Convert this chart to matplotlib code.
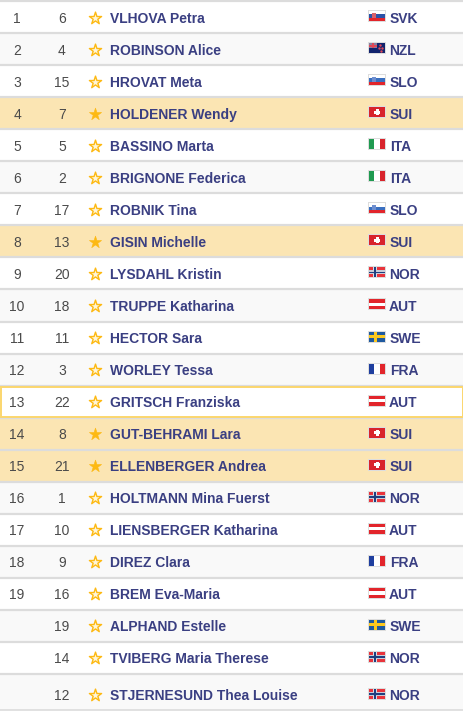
import matplotlib
matplotlib.use("Agg")
from matplotlib import pyplot as plt
from matplotlib.patches import Rectangle

ranks = ["1", "2", "3", "4", "5", "6", "7", "8", "9", "10", "11", "12", "13", "14", "15", "16", "17", "18", "19", "", "", ""]
bibs = [6, 4, 15, 7, 5, 2, 17, 13, 20, 18, 11, 3, 22, 8, 21, 1, 10, 9, 16, 19, 14, 12]
names = ["VLHOVA Petra", "ROBINSON Alice", "HROVAT Meta", "HOLDENER Wendy", "BASSINO Marta",
         "BRIGNONE Federica", "ROBNIK Tina", "GISIN Michelle", "LYSDAHL Kristin", "TRUPPE Katharina",
         "HECTOR Sara", "WORLEY Tessa", "GRITSCH Franziska", "GUT-BEHRAMI Lara", "ELLENBERGER Andrea",
         "HOLTMANN Mina Fuerst", "LIENSBERGER Katharina", "DIREZ Clara", "BREM Eva-Maria",
         "ALPHAND Estelle", "TVIBERG Maria Therese", "STJERNESUND Thea Louise"]
countries = ["SVK", "NZL", "SLO", "SUI", "ITA", "ITA", "SLO", "SUI", "NOR", "AUT", "SWE", "FRA",
             "AUT", "SUI", "SUI", "NOR", "AUT", "FRA", "AUT", "SWE", "NOR", "NOR"]
highlight = "SUI"
hover_row = 12

W, H = 463, 715
TEXT = "#3a3f82"
NUM = "#4a4a4a"
STAR = "#fdb913"
LINE = "#dcdcdc"

plt.rcParams["font.family"] = ["Liberation Sans", "DejaVu Sans"]
fig = plt.figure(figsize=(W / 100, H / 100), dpi=100)
ax = fig.add_axes([0, 0, 1, 1])
ax.set_xlim(0, W)
ax.set_ylim(H, 0)
ax.axis("off")


def box(x, y, w, h, color, z=2):
    ax.add_patch(Rectangle((x, y), w, h, facecolor=color, edgecolor="none", zorder=z))


def flag(code, x, y):
    w, h = 16, 10
    box(x - 1, y - 1, w + 2, h + 2, "#dddddd", 3)
    red, white = "#e2252b", "#ffffff"
    if code in ("SVK", "SLO", "AUT"):
        cols = {"SVK": [white, "#2a52a8", red], "SLO": [white, "#3a6fc0", red], "AUT": [red, white, red]}[code]
        for i, c in enumerate(cols):
            box(x, y + i * h / 3, w, h / 3, c, 4)
        if code != "AUT":
            box(x + 3, y + 2, 4, 5, "#d8606a" if code == "SVK" else "#6f8fd0", 5)
    elif code in ("ITA", "FRA"):
        cols = {"ITA": ["#1f9a50", white, "#d8242c"], "FRA": ["#1f3f9f", white, "#e2252b"]}[code]
        for i, c in enumerate(cols):
            box(x + i * w / 3, y, w / 3, h, c, 4)
    elif code == "SUI":
        box(x, y, w, h, "#d8242c", 4)
        box(x + 6.5, y + 2, 3, 6, white, 5)
        box(x + 5, y + 3.5, 6, 3, white, 5)
    elif code == "NOR":
        box(x, y, w, h, "#e8343c", 4)
        box(x + 4, y, 4, h, "#d9dce6", 5)
        box(x, y + 3, w, 4, "#c8ccd8", 5)
        box(x + 5.2, y, 1.6, h, "#1f3f7f", 6)
        box(x, y + 4.2, w, 1.6, "#1f3f7f", 6)
    elif code == "SWE":
        box(x, y, w, h, "#1f5a9f", 4)
        box(x + 4.5, y, 3, h, "#fcc81e", 5)
        box(x, y + 3.5, w, 3, "#fcc81e", 5)
    elif code == "NZL":
        box(x, y, w, h, "#12246e", 4)
        box(x, y, 8, 5, "#8a7f9f", 5)
        box(x + 3, y, 2, 5, "#e04858", 6)
        box(x, y + 2, 8, 1.5, "#e04858", 6)
        ax.scatter([x + 11, x + 13, x + 11.5, x + 9.5], [y + 2, y + 5, y + 8, y + 5], s=3, color="#e04858", zorder=6, linewidths=0)


# row edges, the last row is taller than the others
edges = [1 + 32.05 * i for i in range(21)] + [673.5, 710]
box(0, 0, W, H, "#ffffff", 0)

for i in range(len(names)):
    top, bot = edges[i], edges[i + 1]
    mid = (top + bot) / 2
    if i == 21:
        mid += 3
    base = round(mid + 5.5)
    code = countries[i]
    if code == highlight:
        bg = "#fbe5b3"
    elif i % 2 == 1:
        bg = "#f9f9f9"
    else:
        bg = "#ffffff"
    box(0, top, W, bot - top, bg, 1)
    ax.plot([0, W], [top, top], color=LINE, lw=1.6, zorder=2, solid_capstyle="butt")
    ax.text(17, base, ranks[i], ha="center", va="baseline", fontsize=10, color=NUM, zorder=7)
    ax.text(62, base, str(bibs[i]), ha="center", va="baseline", fontsize=10, color=NUM, zorder=7)
    filled = code == highlight
    ax.scatter([94.5], [mid + 0.5], marker="*", s=85, facecolor=STAR if filled else "#fff6d8",
               edgecolor=STAR, linewidths=1.0 if not filled else 0.4, zorder=7)
    ax.text(110, base, names[i], ha="left", va="baseline", fontsize=10, fontweight="bold", color=TEXT, zorder=7)
    flag(code, 369, mid - 6)
    ax.text(389 if code in ("NZL", "AUT", "NOR") else 390, base, code, ha="left", va="baseline", fontsize=10,
            fontweight="bold", color=TEXT, zorder=7)

ax.plot([0, W], [edges[-1], edges[-1]], color=LINE, lw=1.2, zorder=2)

# hovered row gets a yellow frame
top, bot = edges[hover_row], edges[hover_row + 1]
ax.add_patch(Rectangle((0.5, top + 1), W - 1, bot - top - 1.5, facecolor="none", edgecolor="#fbd66e", lw=1.4, zorder=3))

fig.savefig("out.png", dpi=100)
